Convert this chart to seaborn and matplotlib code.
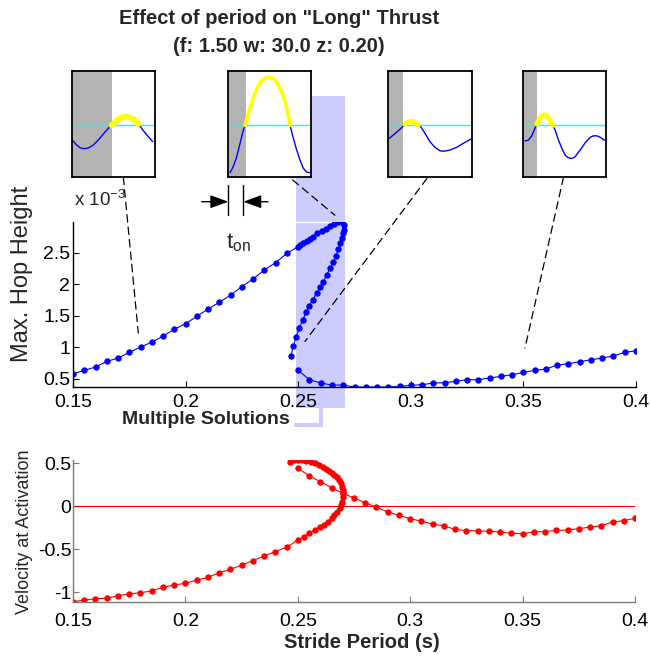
import numpy as np
import matplotlib
matplotlib.use('Agg')
import matplotlib.pyplot as plt
import matplotlib.transforms as mtransforms
from matplotlib.patches import Rectangle, ConnectionPatch
from matplotlib.lines import Line2D
import seaborn as sns

# ---- main curves (hop height in units of 1e-3) ----
hop_x_main = [0.150, 0.155, 0.160, 0.165, 0.170, 0.175, 0.180, 0.185, 0.190, 0.195,
              0.200, 0.205, 0.210, 0.215, 0.220, 0.225, 0.230, 0.235, 0.240, 0.245,
              0.2500, 0.2508, 0.2523, 0.2538, 0.2552, 0.2567, 0.2585, 0.2604, 0.2623,
              0.2641, 0.2659, 0.2678, 0.2693, 0.2703, 0.2705, 0.2700, 0.2693, 0.2686,
              0.2678, 0.2668, 0.2656, 0.2641, 0.2627, 0.2612, 0.2597, 0.2582, 0.2564,
              0.2549, 0.2535, 0.2520, 0.2505, 0.2490, 0.2478, 0.2468]
hop_y_main = [0.575, 0.632, 0.686, 0.775, 0.828, 0.918, 1.003, 1.082, 1.177, 1.288,
              1.373, 1.495, 1.606, 1.717, 1.829, 1.966, 2.087, 2.230, 2.346, 2.495,
              2.600, 2.627, 2.664, 2.696, 2.727, 2.759, 2.812, 2.849, 2.886,
              2.929, 2.965, 2.990, 2.997, 2.944, 2.865, 2.812, 2.733, 2.653,
              2.558, 2.452, 2.362, 2.257, 2.151, 2.044, 1.955, 1.860, 1.754,
              1.659, 1.553, 1.437, 1.304, 1.161, 1.013, 0.865]

hop_x_low = [0.250, 0.255, 0.260, 0.265, 0.270, 0.275, 0.280, 0.285, 0.290, 0.295,
             0.300, 0.305, 0.310, 0.315, 0.320, 0.325, 0.330, 0.335, 0.340, 0.345,
             0.350, 0.355, 0.360, 0.365, 0.370, 0.375, 0.380, 0.385, 0.390, 0.395, 0.400]
hop_y_low = [0.632, 0.484, 0.431, 0.399, 0.399, 0.368, 0.368, 0.368, 0.368, 0.378,
             0.394, 0.405, 0.431, 0.437, 0.458, 0.484, 0.484, 0.511, 0.537, 0.563,
             0.600, 0.632, 0.653, 0.717, 0.738, 0.770, 0.802, 0.828, 0.865, 0.918, 0.944]

vel_x_main = [0.150, 0.155, 0.160, 0.165, 0.170, 0.175, 0.180, 0.185, 0.190, 0.195,
              0.200, 0.205, 0.210, 0.215, 0.220, 0.225, 0.230, 0.235, 0.240, 0.245,
              0.2500, 0.2526, 0.2552, 0.2575, 0.2597, 0.2616, 0.2634, 0.2650, 0.2663,
              0.2675, 0.2686, 0.2693, 0.2698, 0.2702, 0.2703, 0.2702, 0.2698, 0.2691,
              0.2683, 0.2674, 0.2663, 0.2653, 0.2641, 0.2626, 0.2611, 0.2594, 0.2575,
              0.2557, 0.2538, 0.2520, 0.2500, 0.2483, 0.2467]
vel_y_main = [-1.109, -1.090, -1.074, -1.070, -1.039, -1.020, -1.004, -0.985, -0.942, -0.915,
              -0.895, -0.857, -0.826, -0.772, -0.733, -0.683, -0.632, -0.578, -0.527, -0.477,
              -0.392, -0.353, -0.314, -0.279, -0.244, -0.214, -0.179, -0.140, -0.101,
              -0.063, -0.023, 0.015, 0.054, 0.105, 0.151, 0.190, 0.228, 0.267,
              0.306, 0.337, 0.364, 0.391, 0.414, 0.437, 0.460, 0.480, 0.500,
              0.515, 0.527, 0.535, 0.538, 0.535, 0.519]

vel_x_low = hop_x_low
vel_y_low = [0.442, 0.356, 0.286, 0.216, 0.151, 0.097, 0.042, -0.012, -0.066, -0.105,
             -0.144, -0.174, -0.206, -0.229, -0.268, -0.284, -0.284, -0.291, -0.299, -0.314,
             -0.318, -0.299, -0.295, -0.279, -0.276, -0.260, -0.241, -0.226, -0.183, -0.167, -0.140]

multi_x = [0.249, 0.2708]

x_ticks = [0.15, 0.2, 0.25, 0.3, 0.35, 0.4]
x_tick_labels = ['0.15', '0.2', '0.25', '0.3', '0.35', '0.4']
hop_ticks = [0.5, 1, 1.5, 2, 2.5]
hop_tick_labels = ['0.5', '1', '1.5', '2', '2.5']
vel_ticks = [-1, -0.5, 0, 0.5]
vel_tick_labels = ['-1', '-0.5', '0', '0.5']

# ---- inset traces (normalised time, height relative to start height) ----
inset1_t = [0.019, 0.060, 0.100, 0.148, 0.199, 0.259, 0.319, 0.379, 0.439, 0.480, 0.520,
            0.560, 0.620, 0.660, 0.708, 0.760, 0.800, 0.820, 0.860, 0.920, 0.972]
inset1_h = [-0.296, -0.372, -0.422, -0.441, -0.428, -0.372, -0.277, -0.164, -0.057, 0.0, 0.068,
            0.119, 0.157, 0.163, 0.143, 0.100, 0.025, -0.013, -0.101, -0.214, -0.308]
inset2_t = [0.028, 0.067, 0.108, 0.148, 0.188, 0.208, 0.248, 0.290, 0.330, 0.370, 0.408, 0.440,
            0.475, 0.508, 0.540, 0.568, 0.608, 0.648, 0.688, 0.728, 0.748, 0.788, 0.828, 0.868,
            0.908, 0.948, 0.988]
inset2_h = [-0.894, -0.780, -0.592, -0.340, -0.088, 0.0, 0.226, 0.440, 0.620, 0.760, 0.835, 0.878,
            0.902, 0.906, 0.888, 0.855, 0.760, 0.634, 0.445, 0.194, 0.0, -0.245, -0.466, -0.655,
            -0.811, -0.881, -0.894]
inset3_t = [0.012, 0.060, 0.120, 0.173, 0.200, 0.240, 0.281, 0.320, 0.360, 0.389, 0.440,
            0.500, 0.560, 0.620, 0.650, 0.680, 0.740, 0.820, 0.900, 1.0]
inset3_h = [-0.245, -0.183, -0.101, -0.025, 0.019, 0.063, 0.075, 0.050, 0.006, -0.025, -0.151,
            -0.308, -0.415, -0.478, -0.488, -0.485, -0.466, -0.415, -0.340, -0.252]
inset4_t = [0.028, 0.068, 0.108, 0.148, 0.169, 0.190, 0.208, 0.228, 0.248, 0.268, 0.289, 0.329,
            0.361, 0.389, 0.429, 0.470, 0.510, 0.540, 0.570, 0.600, 0.630, 0.690, 0.751, 0.811,
            0.841, 0.871, 0.901, 0.931, 0.992]
inset4_h = [-0.296, -0.277, -0.201, -0.057, 0.025, 0.085, 0.132, 0.172, 0.194, 0.195, 0.176, 0.088,
            0.0, -0.088, -0.277, -0.434, -0.560, -0.605, -0.623, -0.618, -0.591, -0.466, -0.327,
            -0.226, -0.203, -0.195, -0.203, -0.226, -0.290]
inset_ton = [0.48, 0.216, 0.173, 0.169]
inset_glow = [4.2, 2.6, 3.6, 3.6]

# ---- style ----
sns.set_style('white')
plt.rcParams['font.family'] = ['Liberation Sans', 'DejaVu Sans']
plt.rcParams['mathtext.default'] = 'regular'

W, H = 650, 661
fig = plt.figure(figsize=(W / 100, H / 100), dpi=100)


def fx(x):
    return x / W


def fy(y):
    return 1 - y / H


ax1 = fig.add_axes([fx(73), fy(387), (636 - 73) / W, (387 - 221.7) / H])
ax2 = fig.add_axes([fx(73), fy(601.7), (635 - 73) / W, (601.7 - 460) / H])

# top panel
line_kw = dict(sort=False, estimator=None, marker='o', markersize=4.6,
               markeredgewidth=0, linewidth=0.8)
sns.lineplot(x=hop_x_main, y=hop_y_main, color='blue', markeredgecolor='blue', ax=ax1, **line_kw)
sns.lineplot(x=hop_x_low, y=hop_y_low, color='blue', markeredgecolor='blue', ax=ax1, **line_kw)
ax1.set_xlim(0.15, 0.40)
ax1.set_ylim(min(hop_y_low), max(hop_y_main))
ax1.set_xticks(x_ticks)
ax1.set_xticklabels(x_tick_labels)
ax1.set_yticks(hop_ticks)
ax1.set_yticklabels(hop_tick_labels)
ax1.axhline(max(hop_y_main), color='white', lw=1, zorder=1, clip_on=False)

# bottom panel
ax2.axhline(0, color='red', lw=0.8, zorder=1)
sns.lineplot(x=vel_x_main, y=vel_y_main, color='red', markeredgecolor='red', ax=ax2, **line_kw)
sns.lineplot(x=vel_x_low, y=vel_y_low, color='red', markeredgecolor='red', ax=ax2, **line_kw)
ax2.set_xlim(0.15, 0.40)
ax2.set_ylim(min(vel_y_main), max(vel_y_main))
ax2.set_xticks(x_ticks)
ax2.set_xticklabels(x_tick_labels)
ax2.set_yticks(vel_ticks)
ax2.set_yticklabels(vel_tick_labels)

for ax, spine_col, xpad, ypad in [(ax1, 'black', 5, 2), (ax2, '#7a7a7a', 8, 1)]:
    ax.set_facecolor('none')
    sns.despine(ax=ax)
    for s in ['left', 'bottom']:
        ax.spines[s].set_color(spine_col)
        ax.spines[s].set_linewidth(1.0)
    ax.tick_params(axis='both', direction='in', length=4, width=0.8, color=spine_col,
                   labelsize=14, labelcolor='black', left=True, bottom=True)
    ax.tick_params(axis='x', pad=xpad)
    ax.tick_params(axis='y', pad=ypad)
    ax.set_xlabel('')
    ax.set_ylabel('')

# shaded region of multiple solutions
blend = mtransforms.blended_transform_factory(ax1.transData, fig.transFigure)
fig.add_artist(Rectangle((multi_x[0], fy(408)), multi_x[1] - multi_x[0], fy(96) - fy(408),
                         transform=blend, facecolor='#ccccff', edgecolor='none', zorder=-1))
fig.add_artist(Rectangle((fx(294.3), fy(427.3)), fx(322.7) - fx(294.3), fy(423.3) - fy(427.3),
                         transform=fig.transFigure, facecolor='#ccccff', edgecolor='none', zorder=-1))
fig.add_artist(Rectangle((fx(319.3), fy(427.3)), fx(322.7) - fx(319.3), fy(408) - fy(427.3),
                         transform=fig.transFigure, facecolor='#ccccff', edgecolor='none', zorder=-1))

# insets
inset_left = [71.7, 227.7, 388.3, 522.7]
inset_data = [(inset1_t, inset1_h), (inset2_t, inset2_h), (inset3_t, inset3_h), (inset4_t, inset4_h)]
insets = []
for left, (t, h), ton, glow in zip(inset_left, inset_data, inset_ton, inset_glow):
    iax = fig.add_axes([fx(left), fy(177.3), 83.3 / W, (177.3 - 71) / H])
    iax.set_facecolor('white')
    t = np.array(t)
    h = np.array(h)
    iax.axvspan(0, ton, color='#b3b3b3', lw=0, zorder=0)
    iax.hlines(0, t.min(), t.max(), color='cyan', lw=1.0, zorder=1)
    sns.lineplot(x=t, y=h, sort=False, estimator=None, color='blue', lw=1.0, ax=iax, zorder=2)
    on = (t >= ton - 0.01) & (h >= -0.001)
    iax.plot(t[on], h[on], color='yellow', lw=glow, solid_capstyle='round', zorder=3)
    iax.set_xlim(0, 1)
    iax.set_ylim(-0.98, 1.025)
    iax.set_xticks([])
    iax.set_yticks([])
    iax.set_xlabel('')
    iax.set_ylabel('')
    for s in iax.spines.values():
        s.set_visible(True)
        s.set_color('black')
        s.set_linewidth(1.3)
    insets.append(iax)

# connectors from insets to the curve
links = [(0, (0.62, 0.0), (0.179, 1.225)),
         (1, (0.78, -0.025), (0.2663, 3.10)),
         (2, (0.465, -0.01), (0.253, 1.092)),
         (3, (0.49, 0.0), (0.3507, 0.987))]
for i, xyA, xyB in links:
    con = ConnectionPatch(xyA=xyA, coordsA=insets[i].transAxes, xyB=xyB, coordsB=ax1.transData,
                          color='black', lw=0.9, linestyle=(0, (6, 4)))
    fig.add_artist(con)

# t_on marker
for xv in [228.3, 243.3]:
    fig.add_artist(Line2D([fx(xv), fx(xv)], [fy(185), fy(215)], transform=fig.transFigure,
                          color='black', lw=1.0))
arrow = dict(arrowstyle='-|>,head_length=1.1,head_width=0.4', color='black', lw=1.0,
             shrinkA=0, shrinkB=0, mutation_scale=10)
ax1.annotate('', xy=(fx(228.3), fy(201.7)), xytext=(fx(201.7), fy(201.7)),
             xycoords='figure fraction', textcoords='figure fraction', arrowprops=arrow)
ax1.annotate('', xy=(fx(243.3), fy(201.7)), xytext=(fx(268), fy(201.7)),
             xycoords='figure fraction', textcoords='figure fraction', arrowprops=arrow)
fig.text(fx(238), fy(243), r'$\mathregular{t_{on}}$', fontsize=16, ha='center', va='center')

# texts
fig.text(fx(74), fy(206), r'x 10$^{-3}$', fontsize=13.5, ha='left', va='baseline')
fig.text(fx(22), fy(274), 'Max. Hop Height', fontsize=17, rotation=90, ha='center', va='center')
fig.text(fx(25), fy(532), 'Velocity at Activation', fontsize=13, rotation=90, ha='center', va='center')
fig.text(fx(290), fy(420), 'Multiple Solutions', fontsize=14, fontweight='bold', ha='right', va='center')
fig.text(fx(362), fy(643), 'Stride Period (s)', fontsize=14.5, fontweight='bold', ha='center', va='center')
fig.text(fx(279), fy(18), 'Effect of period on "Long" Thrust', fontsize=14.5, fontweight='bold',
         ha='center', va='center')
fig.text(fx(279), fy(47), '(f: 1.50 w: 30.0 z: 0.20)', fontsize=14.5, fontweight='bold',
         ha='center', va='center')

fig.savefig('out.png', dpi=100)
